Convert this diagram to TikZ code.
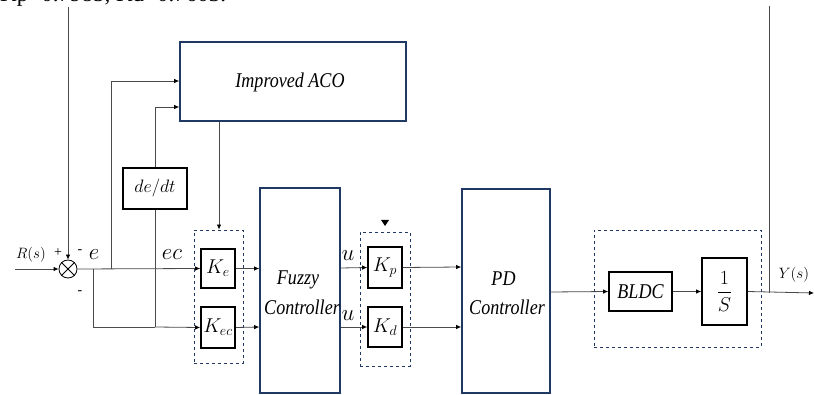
\documentclass[tikz,border=0pt]{standalone}
\usepackage{fix-cm}
\usepackage{amsmath}
\usepackage{fontspec}
\setmainfont{Liberation Serif}
\newfontfamily\cnd[FakeStretch=0.86]{Liberation Serif}
\usetikzlibrary{arrows.meta}
\definecolor{navy}{HTML}{1F3864}
\definecolor{ln}{HTML}{4A4A4A}
\begin{document}
\begin{tikzpicture}[x=1pt,y=-1pt,
  navybox/.style={draw=navy,line width=1.6pt,inner sep=0pt},
  blkbox/.style={draw=black,line width=1.6pt,inner sep=0pt},
  dbox/.style={draw=navy,dashed,line width=0.9pt,inner sep=0pt},
  wire/.style={draw=ln,line width=0.8pt},
  arr/.style={wire,-{Latex[length=5pt,width=4.5pt,color=black]}},
  lbl/.style={font=\fontsize{21}{23}\selectfont\cnd\itshape,inner sep=0pt},
  slbl/.style={font=\fontsize{15}{17}\selectfont,inner sep=0pt},
  mlbl/.style={font=\fontsize{20}{22}\selectfont,inner sep=0pt},
  vlbl/.style={font=\fontsize{23}{25}\selectfont,inner sep=0pt},
  sgn/.style={font=\fontsize{14}{16}\selectfont,inner sep=0pt}]
\useasboundingbox (0,0) rectangle (814,395);
% clipped text at top
\begin{scope}
\clip (0,0) rectangle (814,395);
\node[anchor=base west,inner sep=0pt,font=\fontsize{23}{25}\selectfont] (top) at (0,2) {Kp=0.7985, Kd=0.7603.};
\end{scope}
% main blocks
\node[navybox,minimum width=226pt,minimum height=79pt] (aco) at (293,81.5) {};
\node[lbl] at (290,82) {Improved ACO};
\node[blkbox,minimum width=64pt,minimum height=41pt] (dedt) at (155,188.5) {};
\node[mlbl,font=\fontsize{18}{20}\selectfont] at (dedt.center) {$de/dt$};
% dashed groups
\node[dbox,minimum width=49pt,minimum height=133pt] (g1) at (218.5,296.5) {};
\node[dbox,minimum width=50pt,minimum height=134pt] (g2) at (385,299) {};
\node[dbox,minimum width=167pt,minimum height=117pt] (g3) at (677.5,288.5) {};
% gains
\node[blkbox,minimum width=34pt,minimum height=39pt] (ke) at (218,268.5) {};
\node[mlbl] at (ke.center) {$K_e$};
\node[blkbox,minimum width=34pt,minimum height=41pt] (kec) at (218,327.5) {};
\node[mlbl] at (kec.center) {$K_{ec}$};
\node[blkbox,minimum width=34pt,minimum height=41pt] (kp) at (385,267.5) {};
\node[mlbl] at (kp.center) {$K_p$};
\node[blkbox,minimum width=34pt,minimum height=40pt] (kd) at (385,327) {};
\node[mlbl] at (kd.center) {$K_d$};
% controllers
\node[navybox,minimum width=80pt,minimum height=205pt] (fz) at (300,290.5) {};
\node[lbl] at (298,280) {Fuzzy};
\node[lbl] at (302,307) {Controller};
\node[navybox,minimum width=88pt,minimum height=204pt] (pd) at (506,291) {};
\node[lbl] at (503.5,279) {PD};
\node[lbl] at (507,307) {Controller};
% plant
\node[blkbox,minimum width=63pt,minimum height=39pt] (bldc) at (640.5,291.5) {};
\node[lbl] at (bldc.center) {BLDC};
\node[blkbox,minimum width=45pt,minimum height=67pt] (integ) at (724.5,291.5) {};
\node[mlbl] at (integ.center) {$\dfrac{1}{S}$};
% summing junction
\node[draw=black,line width=0.8pt,circle,minimum size=18pt,inner sep=0pt] (sum) at (68,269) {};
\draw[black,line width=0.8pt] (sum.north west) -- (sum.south east) (sum.north east) -- (sum.south west);
% coordinates
\coordinate (in) at (15,269);
\coordinate (fbL) at (68,7);
\coordinate (out) at (814,293);
\coordinate (fbR) at (769,6);
\coordinate (jE) at (111,269);
\coordinate (jD) at (93,269);
\coordinate (jB) at (155,327);
\coordinate (jY) at (769,293);
% connectors
\draw[arr] (in) -- (sum.west);
\draw[arr] (fbL) -- (sum.north);
\draw[arr] (sum.east) -- (ke.west);
\draw[arr] (jE) |- (aco.west |- 0,81);
\draw[wire] (jD) |- (jB);
\draw[arr] (jB) -- (kec.west);
\draw[wire] (dedt.south) -- (jB);
\draw[arr] (dedt.north) |- (aco.west |- 0,107);
\draw[arr] (aco.south -| 219,0) -- (g1.north -| 219,0);
\draw[arr] (ke.east) -- (fz.west |- ke.east);
\draw[arr] (kec.east) -- (fz.west |- 0,327);
\draw[arr] (fz.east |- 0,268) -- (kp.west);
\draw[arr] (fz.east |- 0,327) -- (kd.west);
\draw[arr] (kp.east) -- (pd.west |- 0,267);
\draw[arr] (kd.east) -- (pd.west |- kd.east);
\draw[arr] (pd.east |- 0,292) -- (bldc.west);
\draw[arr] (bldc.east) -- (integ.west);
\draw[arr] (integ.east) -- (out);
\draw[wire] (jY) -- (fbR);
% small arrow head on top of second dashed group
\fill[black] (381,220) -- (389,220) -- (385,226) -- cycle;
% labels
\node[slbl] (rs) at (31,255) {$R(s)$};
\node[sgn] (plus) at (58,253) {+};
\node[sgn] (m1) at (80,252) {-};
\node[sgn] (m2) at (80,293) {-};
\node[vlbl] (e) at (94,255) {$e$};
\node[vlbl] (ec) at (172,255) {$ec$};
\node[vlbl] (u1) at (348,256) {$u$};
\node[vlbl] (u2) at (348,316) {$u$};
\node[slbl] (ys) at (794,275) {$Y(s)$};
\end{tikzpicture}
\end{document}
